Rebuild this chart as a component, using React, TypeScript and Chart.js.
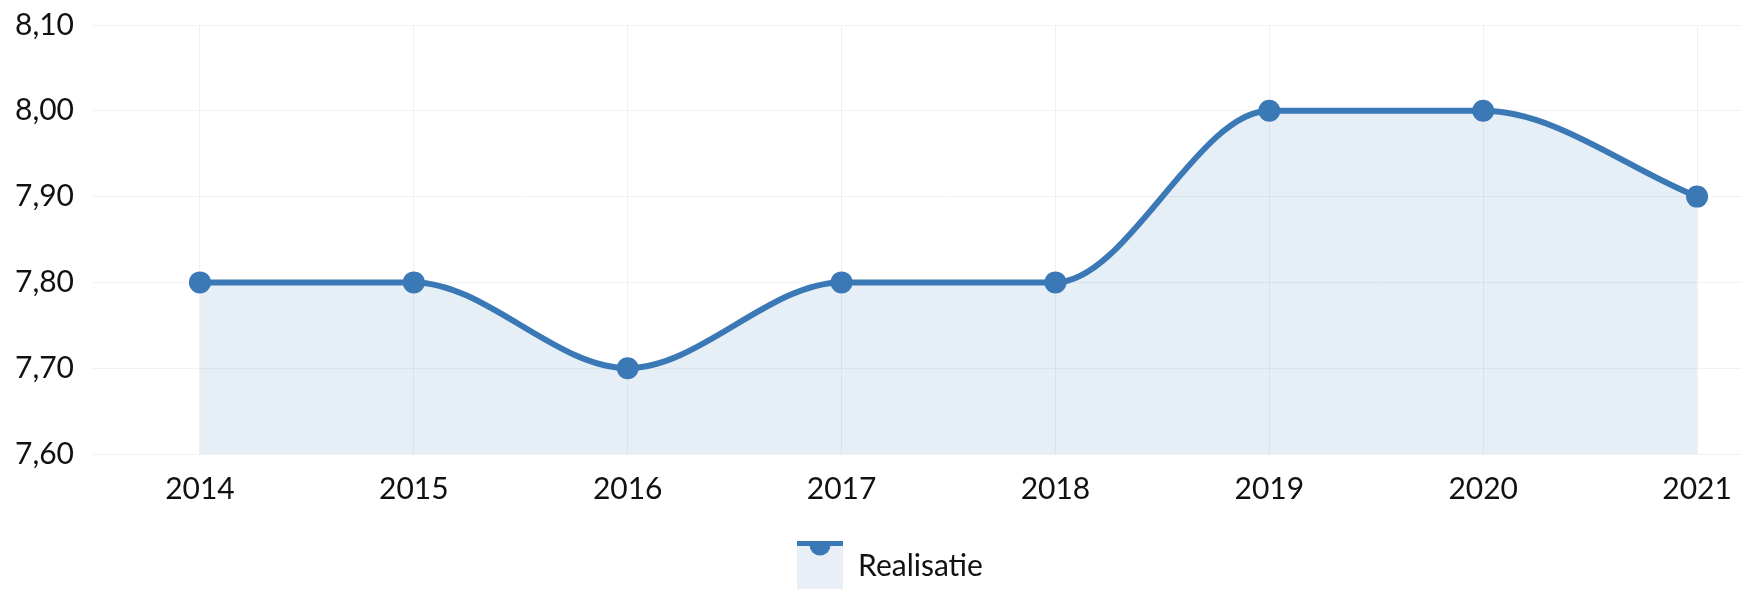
import React, { useEffect, useRef } from 'react';
import { Chart, registerables } from 'chart.js';

Chart.register(...registerables);

// ---- data ----
const categories = ['2014', '2015', '2016', '2017', '2018', '2019', '2020', '2021'];
const realisatie = [7.8, 7.8, 7.7, 7.8, 7.8, 8.0, 8.0, 7.9];
const seriesLabel = 'Realisatie';
const yMin = 7.6;
const yMax = 8.1;
const yStep = 0.1;

// ---- style ----
const LINE = '#3a78b6';
const FILL = 'rgba(58,120,182,0.12)';
const LEGEND_FILL = '#e8eff7';
const GRID = '#f1f1f1';
const TEXT = '#111111';
const FONT = 'Lato, "Noto Sans", sans-serif';
const FONT_SIZE = 30;

function makeLegendSymbol(): HTMLCanvasElement {
  const c = document.createElement('canvas');
  c.width = 46;
  c.height = 70;
  const g = c.getContext('2d')!;
  g.fillStyle = LEGEND_FILL;
  g.fillRect(0, 14, 46, 56);
  g.fillStyle = LINE;
  g.fillRect(0, 9, 46, 6);
  g.beginPath();
  g.arc(23, 14, 10.5, 0, Math.PI * 2);
  g.fill();
  return c;
}

export default function App() {
  const ref = useRef<HTMLCanvasElement>(null);

  useEffect(() => {
    let chart: Chart | null = null;
    let cancelled = false;
    const build = () => {
      if (cancelled || !ref.current) return;
      const symbol = makeLegendSymbol();
      chart = new Chart(ref.current, {
        type: 'line',
        data: {
          labels: categories,
          datasets: [
            {
              label: seriesLabel,
              data: realisatie,
              borderColor: LINE,
              backgroundColor: FILL,
              fill: 'start',
              borderWidth: 6,
              pointRadius: 11,
              pointHoverRadius: 11,
              pointBackgroundColor: LINE,
              pointBorderWidth: 0,
              pointStyle: 'circle',
              cubicInterpolationMode: 'monotone',
            },
          ],
        },
        options: {
          responsive: false,
          animation: false,
          layout: { autoPadding: false, padding: { top: 25, left: 0, right: 0, bottom: 0 } },
          plugins: {
            tooltip: { enabled: false },
            legend: {
              position: 'bottom',
              labels: {
                usePointStyle: true,
                pointStyleWidth: 46,
                padding: 10,
                color: TEXT,
                font: { family: FONT, size: FONT_SIZE },
                generateLabels: () => [
                  {
                    text: seriesLabel,
                    pointStyle: symbol as any,
                    fillStyle: LEGEND_FILL,
                    strokeStyle: LINE,
                    lineWidth: 0,
                    hidden: false,
                    datasetIndex: 0,
                    fontColor: TEXT,
                  } as any,
                ],
              },
            },
          },
          scales: {
            x: {
              offset: true,
              grid: { color: GRID, drawTicks: false, offset: false, lineWidth: 1 },
              border: { display: false },
              ticks: {
                padding: 17,
                color: TEXT,
                font: { family: FONT, size: FONT_SIZE },
                maxRotation: 0,
                autoSkip: false,
              },
              afterFit: (s: any) => {
                s.height = 87;
                s.paddingLeft = 0;
                s.paddingRight = 0;
              },
            },
            y: {
              min: yMin,
              max: yMax,
              grid: { color: GRID, drawTicks: false, lineWidth: 1 },
              border: { display: false },
              ticks: {
                stepSize: yStep,
                padding: 19,
                color: TEXT,
                font: { family: FONT, size: FONT_SIZE },
                callback: (v: any) => Number(v).toFixed(2).replace('.', ','),
              },
              afterFit: (s: any) => {
                s.width = 117;
                s.paddingTop = 0;
                s.paddingBottom = 0;
              },
            },
          },
        },
      });
    };
    const fonts = (document as any).fonts;
    if (fonts && fonts.load) {
      fonts.load(FONT_SIZE + 'px Lato').then(build, build);
    } else {
      build();
    }
    return () => {
      cancelled = true;
      if (chart) chart.destroy();
    };
  }, []);

  return (
    <div
      style={{
        position: 'fixed',
        left: 0,
        top: 0,
        width: 1742,
        height: 589,
        overflow: 'hidden',
        background: '#ffffff',
      }}
    >
      <canvas
        ref={ref}
        width={1828}
        height={591}
        style={{ position: 'absolute', left: -24, top: 0, width: 1828, height: 591 }}
      />
    </div>
  );
}
